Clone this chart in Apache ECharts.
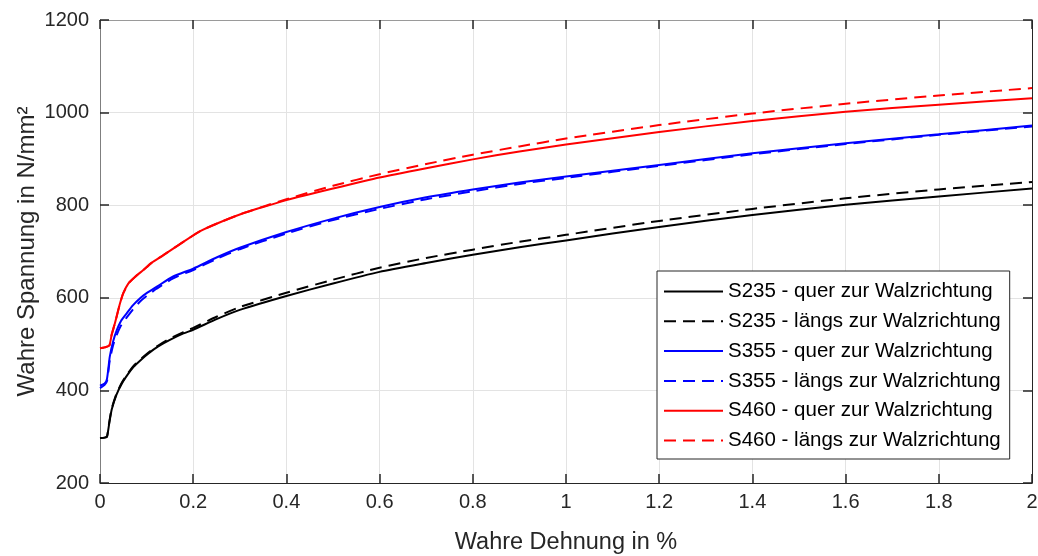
<!DOCTYPE html>
<html>
<head>
<meta charset="utf-8">
<script src="https://cdn.jsdelivr.net/npm/echarts@6/dist/echarts.min.js"></script>
<style>
html,body{margin:0;padding:0;background:#fff;overflow:hidden;}
#chart{width:1038px;height:556px;}
</style>
</head>
<body>
<div id="chart"></div>
<script>
// ---- Data ----
const xTicks = [0, 0.2, 0.4, 0.6, 0.8, 1, 1.2, 1.4, 1.6, 1.8, 2];
const yTicks = [200, 400, 600, 800, 1000, 1200];

const s235QuerX  = [0, 0.01, 0.015, 0.02, 0.025, 0.035, 0.047, 0.06, 0.072, 0.09, 0.104, 0.125, 0.15, 0.179, 0.2, 0.25, 0.3, 0.4, 0.5, 0.6, 0.7, 0.8, 0.9, 1.0, 1.2, 1.4, 1.6, 1.8, 2.0];
const s235QuerY  = [297, 298, 300, 330, 358, 390, 415, 435, 451, 468, 480, 495, 509, 523, 531, 554, 574, 604, 631, 656, 675, 693, 709, 724, 753, 779, 801, 819, 836];

const s235LaengsX = [0, 0.01, 0.015, 0.02, 0.025, 0.035, 0.047, 0.06, 0.072, 0.09, 0.104, 0.125, 0.15, 0.179, 0.2, 0.25, 0.3, 0.4, 0.5, 0.6, 0.7, 0.8, 0.9, 1.0, 1.2, 1.4, 1.6, 1.8, 2.0];
const s235LaengsY = [297, 298, 300, 332, 360, 392, 417, 437, 453, 470, 482, 497, 512, 526, 535, 559, 580, 611, 639, 665, 686, 704, 721, 736, 766, 792, 815, 834, 850];

const s355QuerX  = [0, 0.01, 0.015, 0.021, 0.028, 0.036, 0.045, 0.057, 0.07, 0.086, 0.1, 0.122, 0.157, 0.2, 0.25, 0.3, 0.4, 0.5, 0.6, 0.7, 0.8, 0.9, 1.0, 1.2, 1.4, 1.6, 1.8, 2.0];
const s355QuerY  = [410, 415, 425, 473, 505, 530, 550, 566, 583, 599, 610, 624, 646, 663, 687, 708, 742, 771, 796, 817, 834, 849, 862, 887, 912, 934, 953, 972];

const s355LaengsX = [0, 0.01, 0.015, 0.021, 0.028, 0.036, 0.045, 0.057, 0.07, 0.086, 0.1, 0.122, 0.157, 0.2, 0.25, 0.3, 0.4, 0.5, 0.6, 0.7, 0.8, 0.9, 1.0, 1.2, 1.4, 1.6, 1.8, 2.0];
const s355LaengsY = [405, 412, 420, 465, 497, 520, 540, 557, 574, 592, 604, 620, 642, 660, 684, 705, 739, 768, 792, 813, 830, 846, 859, 885, 910, 932, 952, 970];

const s460QuerX  = [0, 0.01, 0.02, 0.025, 0.032, 0.043, 0.05, 0.061, 0.075, 0.093, 0.11, 0.136, 0.17, 0.215, 0.25, 0.3, 0.35, 0.4, 0.5, 0.6, 0.7, 0.8, 0.9, 1.0, 1.2, 1.4, 1.6, 1.8, 2.0];
const s460QuerY  = [491, 493, 497, 520, 545, 588, 610, 631, 645, 660, 675, 692, 715, 744, 760, 780, 796, 811, 836, 860, 880, 899, 916, 931, 958, 982, 1002, 1017, 1031];

const s460LaengsX = [0, 0.01, 0.02, 0.025, 0.032, 0.043, 0.05, 0.061, 0.075, 0.093, 0.11, 0.136, 0.17, 0.215, 0.25, 0.3, 0.35, 0.4, 0.5, 0.6, 0.7, 0.8, 0.9, 1.0, 1.2, 1.4, 1.6, 1.8, 2.0];
const s460LaengsY = [491, 493, 497, 520, 545, 588, 610, 631, 645, 660, 675, 692, 715, 744, 760, 780, 797, 813, 842, 867, 889, 909, 927, 944, 973, 998, 1019, 1037, 1053];

const seriesNames = [
  'S235 - quer zur Walzrichtung',
  'S235 - längs zur Walzrichtung',
  'S355 - quer zur Walzrichtung',
  'S355 - längs zur Walzrichtung',
  'S460 - quer zur Walzrichtung',
  'S460 - längs zur Walzrichtung'
];

// ---- Build chart ----
const FONT = '"Liberation Sans", Arial, sans-serif';
const TXT = '#262626';
function pairs(xs, ys) { return xs.map((x, i) => [x, ys[i]]); }

const defs = [
  [s235QuerX, s235QuerY, '#000000', 'solid'],
  [s235LaengsX, s235LaengsY, '#000000', [12, 7]],
  [s355QuerX, s355QuerY, '#0000ff', 'solid'],
  [s355LaengsX, s355LaengsY, '#0000ff', [12, 7]],
  [s460QuerX, s460QuerY, '#ff0000', 'solid'],
  [s460LaengsX, s460LaengsY, '#ff0000', [12, 7]]
];

const series = defs.map((d, i) => ({
  name: seriesNames[i],
  type: 'line',
  data: pairs(d[0], d[1]),
  symbol: 'none',
  smooth: 0.2,
  color: d[2],
  lineStyle: { color: d[2], width: 2, type: d[3] },
  z: 3 + i,
  animation: false
}));

const chart = echarts.init(document.getElementById('chart'), null, { renderer: 'canvas' });
const xMin = xTicks[0], xMax = xTicks[xTicks.length - 1];
const yMin = yTicks[0], yMax = yTicks[yTicks.length - 1];

chart.setOption({
  animation: false,
  backgroundColor: '#ffffff',
  grid: { left: 100, right: 6, top: 20, bottom: 73, containLabel: false, outerBoundsMode: 'none' },
  xAxis: [
    {
      type: 'value', min: xMin, max: xMax, interval: 0.2,
      name: 'Wahre Dehnung in %', nameLocation: 'middle', nameGap: 48, nameMoveOverlap: false,
      nameTextStyle: { fontFamily: FONT, fontSize: 23.5, color: TXT },
      axisLine: { show: true, onZero: false, lineStyle: { color: TXT, width: 1 } },
      axisTick: { show: true, inside: true, length: 9, lineStyle: { color: TXT, width: 1.5 } },
      axisLabel: { fontFamily: FONT, fontSize: 20, color: TXT, margin: 9, formatter: v => String(v) },
      splitLine: { show: true, lineStyle: { color: '#e3e3e3', width: 1 } }
    },
    {
      type: 'value', min: xMin, max: xMax, interval: 0.2, position: 'top',
      axisLine: { show: true, onZero: false, lineStyle: { color: '#9a9a9a', width: 1 } },
      axisTick: { show: true, inside: true, length: 9, lineStyle: { color: TXT, width: 1.5 } },
      axisLabel: { show: false },
      splitLine: { show: false }
    }
  ],
  yAxis: [
    {
      type: 'value', min: yMin, max: yMax, interval: 200,
      name: 'Wahre Spannung in N/mm²', nameLocation: 'middle', nameGap: 61, nameMoveOverlap: false,
      nameTextStyle: { fontFamily: FONT, fontSize: 24, color: TXT },
      axisLine: { show: true, onZero: false, lineStyle: { color: '#7f7f7f', width: 1 } },
      axisTick: { show: true, inside: true, length: 9, lineStyle: { color: TXT, width: 1.5 } },
      axisLabel: { fontFamily: FONT, fontSize: 20, color: TXT, margin: 11, formatter: v => String(v) },
      splitLine: { show: true, lineStyle: { color: '#e3e3e3', width: 1 } }
    },
    {
      type: 'value', min: yMin, max: yMax, interval: 200, position: 'right',
      axisLine: { show: true, onZero: false, lineStyle: { color: TXT, width: 1 } },
      axisTick: { show: true, inside: true, length: 9, lineStyle: { color: TXT, width: 1.5 } },
      axisLabel: { show: false },
      splitLine: { show: false }
    }
  ],
  legend: {
    show: true,
    orient: 'vertical',
    left: 657, top: 271,
    padding: [10, 9, 8, 6],
    itemWidth: 59, itemHeight: 14, itemGap: 8.8,
    backgroundColor: '#ffffff',
    borderColor: '#262626', borderWidth: 1,
    itemStyle: { opacity: 0 },
    textStyle: { fontFamily: FONT, fontSize: 20.5, color: '#000000', lineHeight: 20 },
    data: seriesNames
  },
  series: series
});
</script>
</body>
</html>
